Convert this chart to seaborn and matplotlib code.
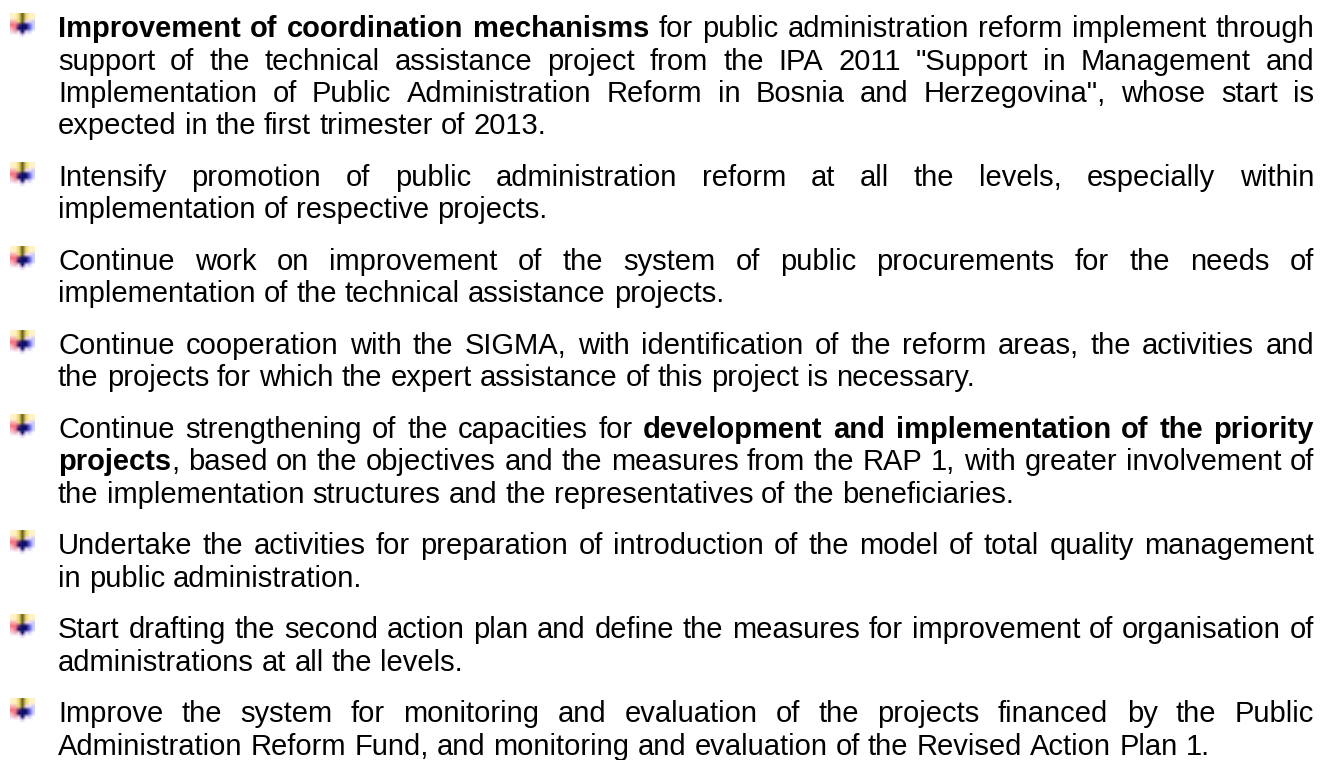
import numpy as np
import matplotlib
matplotlib.use("Agg")
import matplotlib.pyplot as plt
import seaborn as sns

# Bullet list text, one list per paragraph ("**" toggles bold)
paragraph_1 = [
    "**Improvement of coordination mechanisms** for public administration reform implement through",
    "support of the technical assistance project from the IPA 2011 \"Support in Management and",
    "Implementation of Public Administration Reform in Bosnia and Herzegovina\", whose start is",
    "expected in the first trimester of 2013.",
]
paragraph_2 = [
    "Intensify promotion of public administration reform at all the levels, especially within",
    "implementation of respective projects.",
]
paragraph_3 = [
    "Continue work on improvement of the system of public procurements for the needs of",
    "implementation of the technical assistance projects.",
]
paragraph_4 = [
    "Continue cooperation with the SIGMA, with identification of the reform areas, the activities and",
    "the projects for which the expert assistance of this project is necessary.",
]
paragraph_5 = [
    "Continue strengthening of the capacities for **development and implementation of the priority**",
    "**projects**, based on the objectives and the measures from the RAP 1, with greater involvement of",
    "the implementation structures and the representatives of the beneficiaries.",
]
paragraph_6 = [
    "Undertake the activities for preparation of introduction of the model of total quality management",
    "in public administration.",
]
paragraph_7 = [
    "Start drafting the second action plan and define the measures for improvement of organisation of",
    "administrations at all the levels.",
]
paragraph_8 = [
    "Improve the system for monitoring and evaluation of the projects financed by the Public",
    "Administration Reform Fund, and monitoring and evaluation of the Revised Action Plan 1.",
]
paragraphs = [paragraph_1, paragraph_2, paragraph_3, paragraph_4,
              paragraph_5, paragraph_6, paragraph_7, paragraph_8]

sns.set_theme(style="white")
plt.rcParams['font.family'] = ['Liberation Sans', 'DejaVu Sans']

W, H, DPI = 1333, 760, 100
FONT_SIZE = 21
LEFT, RIGHT = 58, 1314
FIRST_BASELINE = 37
LINE_STEP = 32.5
PARA_GAP = 19

fig = plt.figure(figsize=(W / DPI, H / DPI), dpi=DPI)
fig.patch.set_facecolor('white')
ax = fig.add_axes([0, 0, 1, 1])
renderer = fig.canvas.get_renderer()

# small blurry "plus" bullet picture
w_ = (1, 1, 1)
ly = (1.0, 0.95, 0.78)
yl = (0.93, 0.85, 0.45)
ol = (0.42, 0.38, 0.12)
pk = (0.98, 0.68, 0.7)
rd = (0.95, 0.45, 0.5)
pu = (0.4, 0.2, 0.45)
nv = (0.06, 0.06, 0.4)
bl = (0.38, 0.38, 0.88)
lb = (0.8, 0.8, 1.0)
lv = (0.92, 0.84, 0.95)
icon = np.array([
    [ly, ly, yl, ol, yl, ly, ly],
    [ly, ly, yl, ol, yl, ly, ly],
    [pk, pk, yl, ol, lv, lv, lb],
    [rd, rd, pu, nv, nv, bl, lb],
    [pk, rd, nv, nv, nv, bl, lb],
    [lv, pk, lv, nv, lv, lb, w_],
    [w_, w_, w_, lv, w_, w_, w_],
])


def split_words(line):
    words = [[]]
    bold = False
    for i, chunk in enumerate(line.split('**')):
        if i > 0:
            bold = not bold
        for j, part in enumerate(chunk.split(' ')):
            if j > 0:
                words.append([])
            if part:
                words[-1].append((part, bold))
    return [wd for wd in words if wd]


def text_width(s, bold):
    t = ax.text(0, 0, s, fontsize=FONT_SIZE, fontweight='bold' if bold else 'normal')
    wd = t.get_window_extent(renderer).width
    t.remove()
    return wd


# ink gap between two words separated by one space
space = text_width('x x', False) - 2 * text_width('x', False)

k = 0
for p, para in enumerate(paragraphs):
    for li, line in enumerate(para):
        y = FIRST_BASELINE + k * LINE_STEP + p * PARA_GAP
        words = split_words(line)
        widths = [sum(text_width(s, b) for s, b in wd) for wd in words]
        if li == len(para) - 1:
            gap = space
        else:
            gap = (RIGHT - LEFT - sum(widths)) / (len(words) - 1)
        x = LEFT
        for wd, ww in zip(words, widths):
            xx = x
            for s, b in wd:
                ax.text(xx, y, s, fontsize=FONT_SIZE, color='black',
                        fontweight='bold' if b else 'normal',
                        ha='left', va='baseline')
                xx += text_width(s, b)
            x += ww + gap
        if li == 0:
            yc = y - 12
            ax.imshow(icon, extent=(10, 35, yc + 12, yc - 12),
                      interpolation='bilinear', aspect='auto', zorder=1)
        k += 1

ax.set_xlim(0, W)
ax.set_ylim(H, 0)
ax.axis('off')

fig.savefig('out.png', dpi=DPI, facecolor='white')
